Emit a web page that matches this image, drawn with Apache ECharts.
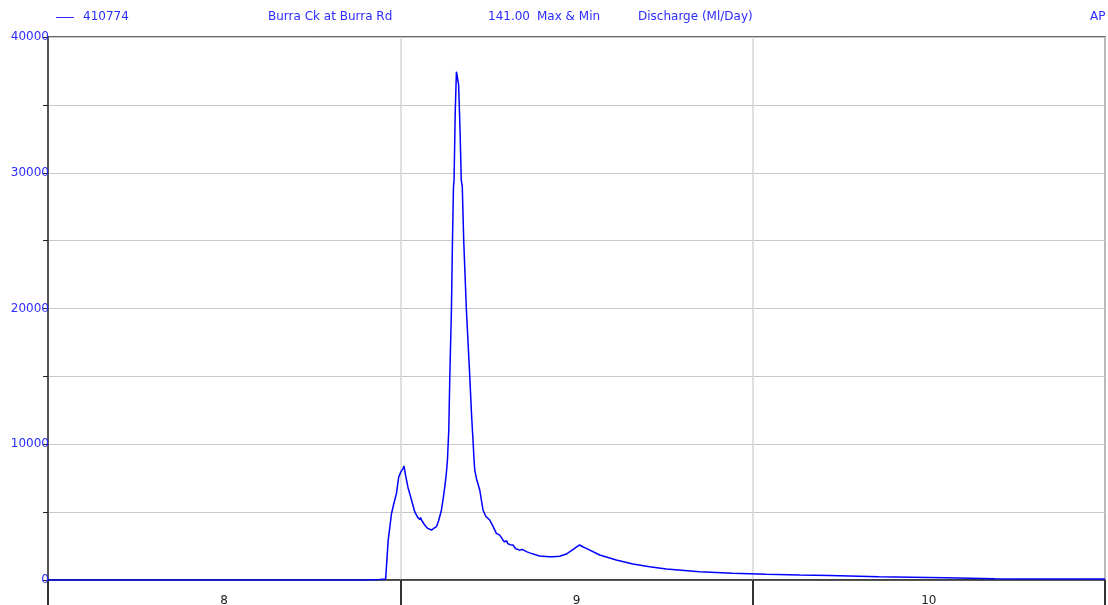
<!DOCTYPE html>
<html>
<head>
<meta charset="utf-8">
<script src="https://cdn.jsdelivr.net/npm/echarts@6/dist/echarts.min.js"></script>
<style>
html,body{margin:0;padding:0;background:#fff;}
#chart{width:1108px;height:605px;}
</style>
</head>
<body>
<div id="chart"></div>
<script>
// Day labels (categories) on the x axis
var dayLabels = ['8', '9', '10'];
// Hours since the start of day 8
var hours = [0, 12, 21.9, 22.6, 23.0, 23.17, 23.4, 23.55, 23.74, 23.89, 24.03, 24.19, 24.25, 24.34, 24.53, 24.71, 24.98, 25.19, 25.32, 25.38, 25.44, 25.5, 25.66, 25.87, 26.12, 26.28, 26.46, 26.62, 26.8, 26.92, 27.03, 27.13, 27.21, 27.3, 27.37, 27.48, 27.55, 27.62, 27.66, 27.74, 27.82, 27.87, 27.97, 28.07, 28.15, 28.22, 28.32, 28.5, 28.73, 28.86, 28.95, 29.02, 29.07, 29.2, 29.41, 29.63, 29.82, 30.09, 30.29, 30.54, 30.77, 30.99, 31.1, 31.24, 31.3, 31.45, 31.67, 31.86, 32.13, 32.3, 32.59, 32.81, 33.27, 33.49, 34.17, 34.4, 34.85, 35.31, 35.87, 36.21, 36.42, 36.67, 37.58, 38.71, 39.84, 40.98, 42.12, 44.38, 46.63, 48.92, 51.19, 53.23, 56.6, 61.1, 64.5, 72];
// Discharge (Ml/Day)
var discharge = [0, 0, 0, 40, 80, 2900, 4900, 5600, 6400, 7600, 7950, 8230, 8400, 7800, 6780, 6100, 5030, 4600, 4450, 4600, 4420, 4450, 4050, 3800, 3680, 3800, 3930, 4400, 5160, 6000, 6880, 7800, 8840, 11050, 14980, 19890, 24920, 28950, 29460, 34500, 37440, 37300, 36500, 33000, 29460, 28970, 24920, 19890, 14980, 12000, 10310, 8840, 8100, 7400, 6630, 5160, 4700, 4420, 4000, 3440, 3310, 2950, 2800, 2900, 2700, 2600, 2580, 2300, 2200, 2250, 2090, 2000, 1840, 1770, 1720, 1720, 1750, 1910, 2330, 2580, 2450, 2330, 1840, 1470, 1180, 980, 810, 610, 490, 420, 370, 340, 245, 170, 100, 70];

var blue = '#2b2bff';
var chart = echarts.init(document.getElementById('chart'), null, {renderer: 'canvas'});
var pts = hours.map(function (h, i) { return [h, discharge[i]]; });

var font = '"DejaVu Sans", Verdana, sans-serif';
function txt(x, text) {
  return {type: 'text', left: x, top: 11, style: {text: text, fill: blue, font: '12px ' + font}};
}

chart.setOption({
  animation: false,
  backgroundColor: '#ffffff',
  grid: {left: 48, right: 3, top: 37, bottom: 25, containLabel: false, outerBoundsMode: 'none',
    show: true, borderColor: '#333', borderWidth: 1.5, backgroundColor: 'transparent'},
  graphic: [
    {type: 'line', shape: {x1: 56, y1: 17.5, x2: 74, y2: 17.5}, style: {stroke: blue, lineWidth: 1}},
    txt(83, '410774'),
    txt(268, 'Burra Ck at Burra Rd'),
    txt(488, '141.00'),
    txt(537, 'Max & Min'),
    txt(638, 'Discharge (Ml/Day)'),
    txt(1090, 'AP')
  ],
  xAxis: [
    {
      type: 'category', data: dayLabels, boundaryGap: true,
      axisLine: {show: true, lineStyle: {color: '#333', width: 1.5}},
      axisTick: {show: true, length: 25, lineStyle: {color: '#333', width: 2}},
      axisLabel: {color: '#222', fontSize: 12, fontFamily: font, margin: 15},
      splitLine: {show: true, lineStyle: {color: '#d6d6d6', width: 1.5}}
    },
    {
      type: 'value', min: 0, max: 72, show: false,
      splitLine: {show: false}
    }
  ],
  yAxis: {
    type: 'value', min: 0, max: 40000, interval: 5000,
    axisLine: {show: true, lineStyle: {color: '#333', width: 1.5}},
    axisTick: {show: true, length: 5, lineStyle: {color: '#222'}},
    axisLabel: {
      color: blue, fontSize: 12, fontFamily: font, margin: -1, padding: [3, 0, 0, 0],
      formatter: function (v) { return v % 10000 === 0 ? String(v) : ''; }
    },
    splitLine: {show: true, lineStyle: {color: '#c8c8c8', width: 1}}
  },
  series: [{
    type: 'line', xAxisIndex: 1, data: pts, showSymbol: false,
    lineStyle: {color: '#0000ff', width: 1.5}, z: 5
  }]
});
</script>
</body>
</html>
